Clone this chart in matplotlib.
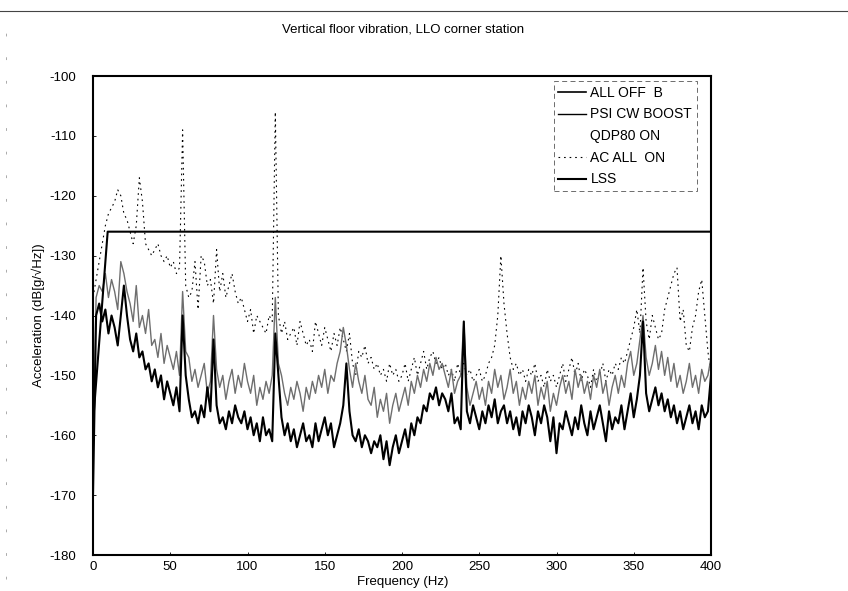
import numpy as np
import matplotlib
matplotlib.use("Agg")
import matplotlib.pyplot as plt
from matplotlib.lines import Line2D

plt.rcParams['font.family'] = ['Liberation Sans', 'DejaVu Sans']
plt.rcParams['axes.unicode_minus'] = False

# frequency grid of the spectra (Hz)
freq = np.arange(0, 401, 2)

# ALL OFF  B  (dB[g/rtHz]), every 2 Hz
all_off_b = [
    -170, -140, -138, -141, -139, -143, -140, -142, -145, -140,
    -135, -140, -144, -146, -143, -147, -146, -149, -148, -151,
    -149, -152, -150, -154, -151, -153, -155, -152, -156, -140,
    -150, -154, -157, -156, -158, -155, -157, -152, -156, -144,
    -155, -158, -157, -159, -156, -158, -155, -157, -158, -156,
    -159, -157, -160, -158, -161, -157, -160, -159, -161, -143,
    -150, -157, -160, -158, -161, -159, -162, -160, -158, -161,
    -160, -162, -158, -161, -159, -157, -160, -158, -162, -160,
    -158, -155, -148, -156, -160, -161, -159, -162, -160, -161,
    -163, -161, -162, -160, -164, -161, -165, -162, -160, -163,
    -161, -159, -162, -158, -160, -157, -158, -155, -156, -153,
    -154, -152, -155, -153, -154, -156, -153, -158, -157, -159,
    -141, -156, -158, -155, -157, -159, -156, -158, -155, -157,
    -154, -158, -156, -155, -158, -156, -159, -157, -160, -156,
    -158, -155, -157, -160, -156, -158, -155, -157, -161, -157,
    -163, -158, -159, -156, -158, -160, -157, -159, -155, -158,
    -160, -156, -159, -157, -155, -158, -161, -156, -159, -157,
    -158, -155, -159, -156, -153, -157, -154, -150, -141, -153,
    -156, -154, -152, -155, -153, -156, -154, -157, -155, -158,
    -156, -159, -157, -155, -158, -156, -159, -155, -157, -156,
    -150,
]

# PSI CW BOOST / QDP80 ON
psi_boost = [
    -165, -137, -135, -136, -133, -137, -134, -136, -139, -131,
    -133, -136, -138, -141, -135, -142, -140, -143, -139, -145,
    -144, -147, -143, -148, -145, -147, -149, -146, -150, -136,
    -146, -147, -151, -149, -152, -150, -148, -153, -151, -140,
    -149, -152, -150, -154, -151, -149, -153, -150, -152, -148,
    -151, -153, -150, -155, -152, -154, -151, -153, -150, -137,
    -148, -150, -153, -155, -152, -154, -151, -153, -156, -152,
    -154, -151, -153, -150, -152, -149, -153, -150, -151, -148,
    -146, -142, -145, -149, -152, -148, -151, -153, -150, -154,
    -155, -152, -157, -154, -156, -153, -158, -155, -153, -156,
    -154, -152, -155, -151, -153, -150, -152, -149, -151, -148,
    -150, -147, -149, -148, -150, -152, -149, -153, -151, -150,
    -141, -152, -155, -153, -151, -154, -152, -155, -151, -153,
    -149, -152, -150, -154, -152, -149, -153, -151, -155, -152,
    -154, -151, -153, -150, -155, -152, -154, -151, -156, -153,
    -155, -152, -150, -153, -151, -154, -149, -152, -150, -153,
    -151, -154, -150, -152, -149, -153, -151, -155, -152, -150,
    -153, -150, -152, -148, -146, -150, -148, -144, -140, -147,
    -150, -148, -145, -149, -146, -150, -147, -151, -148, -152,
    -150, -153, -151, -148, -152, -150, -153, -149, -151, -150,
    -147,
]

# AC ALL  ON
ac_all_on = [
    -137, -134, -131, -128, -125, -123, -122, -121, -119, -120,
    -123, -124, -126, -128, -125, -117, -121, -128, -129, -130,
    -129, -128, -130, -131, -130, -132, -131, -133, -132, -109,
    -135, -137, -136, -131, -139, -130, -131, -135, -134, -138,
    -129, -136, -133, -137, -135, -133, -136, -138, -137, -139,
    -141, -139, -143, -140, -141, -142, -143, -140, -141, -106,
    -140, -143, -141, -144, -143, -142, -145, -141, -143, -145,
    -144, -146, -141, -143, -145, -142, -144, -146, -143, -145,
    -142, -144, -146, -143, -148, -150, -146, -147, -145, -148,
    -147, -149, -148, -150, -149, -151, -148, -150, -149, -151,
    -150, -148, -151, -149, -147, -150, -148, -146, -149, -147,
    -146, -148, -147, -149, -148, -150, -149, -151, -148, -150,
    -148, -150, -149, -151, -150, -149, -151, -150, -148, -147,
    -145, -140, -130, -138, -143, -147, -149, -148, -150, -149,
    -151, -149, -150, -148, -151, -150, -152, -149, -151, -150,
    -152, -150, -148, -151, -149, -147, -150, -148, -151, -149,
    -150, -152, -149, -151, -150, -148, -151, -149, -150, -148,
    -149, -147, -148, -146, -144, -142, -139, -143, -132, -141,
    -144, -140, -142, -144, -143, -139, -137, -135, -133, -132,
    -141, -139, -145, -146, -142, -140, -136, -134, -140, -146,
    -150,
]

# LSS requirement line
lss_freq = [0, 9.5, 400]
lss_db = [-158, -126, -126]

fig = plt.figure(figsize=(8.48, 5.91), dpi=100)
ax = fig.add_axes([93/848, 1 - 555/591, (711 - 93)/848, (555 - 76)/591])

ax.plot(freq, ac_all_on, color='k', lw=0.8, ls=(0, (1.5, 3.5)))
ax.plot(freq, psi_boost, color='#6e6e6e', lw=1.0)
ax.plot(freq, all_off_b, color='k', lw=1.5)
ax.plot(lss_freq, lss_db, color='k', lw=1.5)

ax.set_xlim(0, 400)
ax.set_ylim(-180, -100)
ax.set_xticks(np.arange(0, 401, 50))
ax.set_yticks(np.arange(-180, -99, 10))
ax.tick_params(direction='in', length=2, labelsize=9.5, width=0.6)
ax.tick_params(axis='y', pad=12)
ax.tick_params(axis='x', pad=4)
for s in ax.spines.values():
    s.set_linewidth(1.5)

ax.set_ylabel("Acceleration (dB[g/\u221aHz])", fontsize=9.5, labelpad=3)
fig.text(403/848, 1 - 582/591, "Frequency (Hz)", ha='center', va='center', fontsize=9.5)
fig.text(403/848, 1 - 30/591, "Vertical floor vibration, LLO corner station",
         ha='center', va='center', fontsize=9.5)

# legend: the second entry wraps over two rows in the original
handles = [Line2D([], [], color='k', lw=1.2),
           Line2D([], [], color='k', lw=1.0),
           Line2D([], [], color='none'),
           Line2D([], [], color='k', lw=0.8, ls=(0, (1.5, 3.5))),
           Line2D([], [], color='k', lw=1.5)]
labels = ["ALL OFF  B", "PSI CW BOOST", "QDP80 ON", "AC ALL  ON", "LSS"]
leg = ax.legend(handles, labels, loc='upper right',
                bbox_to_anchor=(697/848, 1 - 81/591), bbox_transform=fig.transFigure,
                borderaxespad=0, fontsize=10, handlelength=2.0, handletextpad=0.3,
                labelspacing=0.55, borderpad=0.35, fancybox=False, framealpha=1)
leg.get_frame().set_edgecolor('#555555')
leg.get_frame().set_linewidth(0.6)
leg.get_frame().set_linestyle((0, (6, 4)))

# scan edges of the page
fig.add_artist(Line2D([0, 1], [1 - 11/591, 1 - 11/591], color='#444444', lw=0.8,
                      transform=fig.transFigure))
fig.add_artist(Line2D([6/848, 6/848], [0.02, 1 - 14/591], color='#888888', lw=0.5,
                      ls=(0, (4, 30)), transform=fig.transFigure))

fig.savefig("out.png", dpi=100)
